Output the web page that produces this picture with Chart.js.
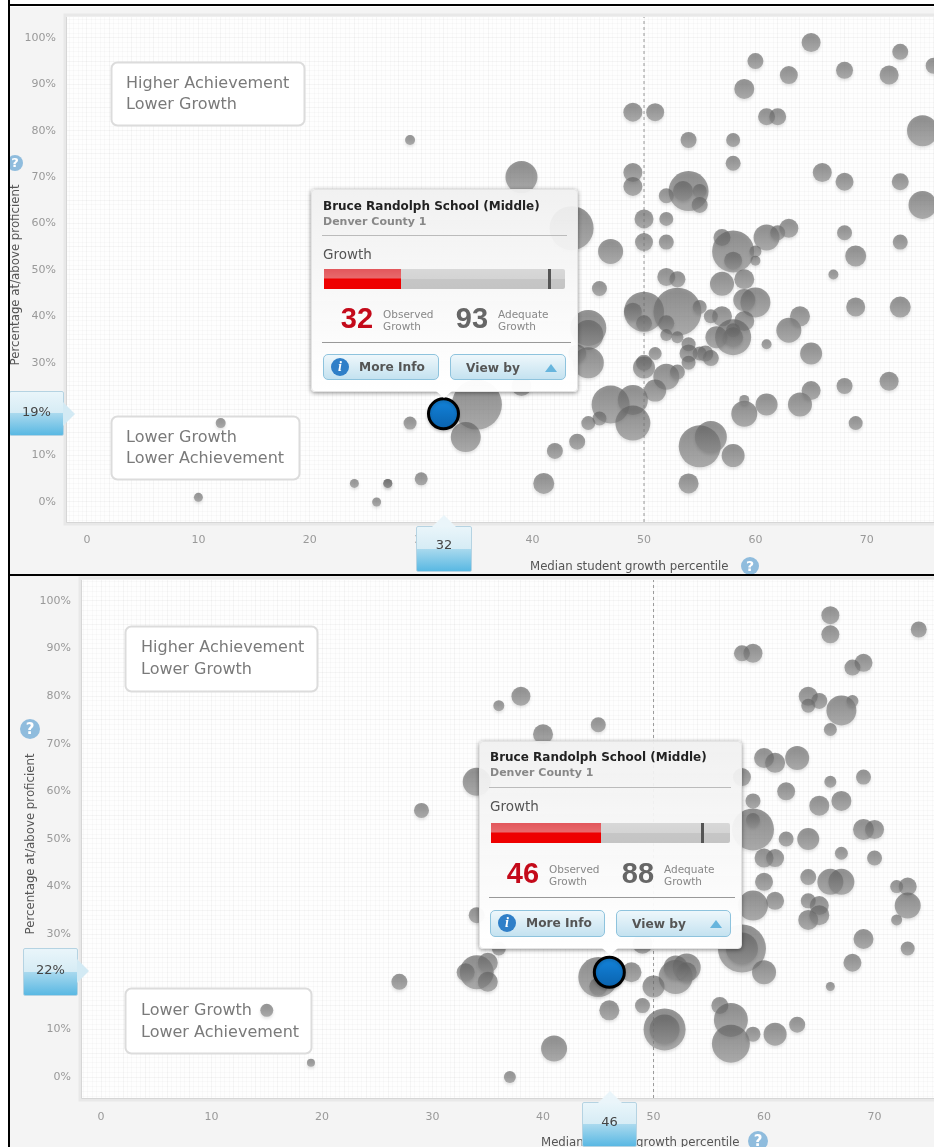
<!DOCTYPE html>
<html>
<head>
<meta charset="utf-8">
<title>Median growth vs percentage proficient</title>
<script src="https://cdn.jsdelivr.net/npm/chart.js@4"></script>
<style>
  html, body { margin: 0; padding: 0; background: #fff; width: 934px; height: 1147px; overflow: hidden; font-family: "DejaVu Sans", sans-serif; }
  canvas { position: absolute; background: #f4f4f4; }
  .abs { position: absolute; white-space: nowrap; }
  .line { position: absolute; background: #000; }
  .axisTitle { color: #555; font-size: 11.75px; }
  .help { position: absolute; border-radius: 50%; background: #8fbcdd; color: #fff; font-weight: bold; text-align: center; }
  .callout { position: absolute; border: 1px solid #b5d3e2; box-sizing: border-box; border-radius: 2px;
    background: linear-gradient(#e9f5fa 0, #d6ecf5 49%, #a9d9ee 50%, #59b8e3 100%); color: #444; font-size: 13px; text-align: center; }
  .callout:after { content: ""; position: absolute; }
  .callout.right:after { left: 100%; top: 10px; border-left: 12px solid #d3eaf4; border-top: 12px solid transparent; border-bottom: 12px solid transparent; }
  .callout.up:after { bottom: 100%; left: 15px; border-bottom: 12px solid #eaf5fa; border-left: 12px solid transparent; border-right: 12px solid transparent; }
  .tip { position: absolute; box-sizing: border-box; border: 1px solid #e4e4e4; border-radius: 4px; background: linear-gradient(rgba(240,240,240,.93), rgba(255,255,255,.97)); box-shadow: 0 1px 4px rgba(0,0,0,.45); color: #444; }
  .tipArrow { position: absolute; top: 100%; margin-left: -8px; border-top: 7px solid #fff; border-left: 8px solid transparent; border-right: 8px solid transparent; }
  .tip .rule { position: absolute; height: 1px; background: #bbb; }
  .bar { position: absolute; background: linear-gradient(#d8d8d8 0, #d4d4d4 49%, #c6c6c6 50%, #c4c4c4 100%); border-radius: 2px; }
  .bar i { position: absolute; left: 0; top: 0; bottom: 0; background: linear-gradient(#e2575c 0, #e86a6c 45%, #ee0000 50%, #ee0000 100%); }
  .bar b { position: absolute; top: 0; bottom: 0; width: 3px; background: #555; }
  .num { position: absolute; font: bold 29px/30px "Liberation Sans", sans-serif; transform: translateX(-50%); }
  .cap { position: absolute; font-size: 10.5px; line-height: 12px; color: #888; white-space: nowrap; }
  .btn { position: absolute; box-sizing: border-box; border: 1px solid #8ec3dd; border-radius: 5px; background: linear-gradient(#eef7fb, #c4e2f0); font-weight: bold; font-size: 12.2px; color: #555; }
  .btn span { position: absolute; white-space: nowrap; }
  .info { position: absolute; border-radius: 50%; background: #2f7fc8; color: #fff; font: italic bold 14px "Liberation Serif", serif; text-align: center; }
  .tri { position: absolute; border-bottom: 8px solid #67b5dd; border-left: 6px solid transparent; border-right: 6px solid transparent; }
</style>
</head>
<body>
<canvas id="topChart" width="925" height="567" style="left:9px;top:7px"></canvas>
<canvas id="bottomChart" width="925" height="571" style="left:9px;top:576px"></canvas>
<div id="overlay"></div>
<div class="line" style="left:0;top:0;width:8px;height:1147px;background:#fff"></div>
<div class="line" style="left:8px;top:0;width:2px;height:1147px"></div>
<div class="line" style="left:8px;top:4px;width:926px;height:2px"></div>
<div class="line" style="left:8px;top:574px;width:926px;height:2px"></div>

<script>
// growth percentile, percent proficient and bubble size
const topGrowth = [65, 73, 76, 60, 63, 68, 72, 59, 49, 51, 61, 62, 75, 54, 58, 29, 58, 39, 49, 49, 66, 68, 73, 75,
  54, 52, 55, 55, 53.5, 50, 52, 50, 52, 43.5, 47, 57, 58, 58, 61, 62, 63, 60, 60, 68, 73, 69, 67, 52, 53, 57, 59, 46,
  60, 59, 69, 73, 50, 49, 50, 53, 52, 52, 53, 55, 56, 57, 59, 58, 58, 56.5, 58, 61, 63, 64, 65, 45, 45, 45, 44,
  54, 54, 54, 55, 55.5, 56, 51, 50, 50, 52, 53, 51, 47, 49, 49, 46, 45, 44, 42, 41, 54, 55, 56, 58, 59, 59, 61, 64, 65,
  68, 72, 69, 35, 34, 39, 12, 29, 24, 27, 27, 30, 26, 10];
const topProficient = [99, 97, 94, 95, 92, 93, 92, 89, 84, 84, 83, 83, 80, 78, 78, 78, 73, 70, 71, 68, 71, 69, 69, 64,
  67, 66, 67, 64, 67, 61, 61, 56, 56, 59, 54, 57, 54, 52, 57, 58, 59, 54, 52, 58, 56, 53, 49, 48.5, 48, 47, 48, 46,
  43, 43.5, 42, 42, 41, 41, 38.5, 41, 38.5, 36, 35.5, 42, 40, 40, 39, 37, 35.5, 35.5, 35.5, 34, 37, 40, 32, 37.5, 36, 30, 32,
  34, 32, 30, 32, 32, 31, 32, 30, 29, 27, 28, 24, 21, 22, 17, 18, 17, 13, 11, 4, 4, 12, 14, 10, 19, 22, 21, 21, 24,
  25, 26, 17, 21, 14, 25, 17, 17, 4, 4, 4, 5, 0, 1];
const topSize = [9.5, 8, 8, 8, 9, 8.5, 9.5, 10, 9.5, 9, 8.5, 8.5, 15.5, 8, 7, 5, 7.5, 16, 9.5, 9.5, 9.5, 9, 8.5, 14,
  20, 7.5, 7, 8, 10, 9.5, 7, 9, 7.5, 22, 12.5, 8.5, 21, 9, 13, 7.5, 9.5, 6, 5, 7.5, 7.5, 10.5, 5, 9, 8, 12, 10, 7.5,
  15, 11, 9.5, 10.5, 20, 9, 8, 24, 8, 6, 6, 7, 7, 10, 10, 7, 18, 11, 10, 5, 12.5, 10, 11, 18, 15, 15.5, 9,
  7, 9, 7, 7, 8, 8, 6.5, 8, 11, 13, 7.5, 11, 19, 15, 17.5, 7, 7, 8, 8, 10.5, 10, 21, 16, 11.5, 13, 5, 11, 12, 9.5,
  8, 9.5, 7, 25, 15, 10, 5, 6.5, 4.5, 4.5, 4.5, 6.5, 4.5, 4.5];

const bottomGrowth = [66, 66, 74, 58, 59, 69, 68, 64, 65, 64, 67, 68, 66, 38, 36, 45, 40, 60, 61, 63, 69, 66, 62, 67, 65,
  59, 59, 59, 58, 64, 62, 69, 70, 67, 70, 60, 61, 34, 64, 66, 67, 72, 73, 73, 72, 69, 73, 68, 66, 60, 59, 61, 64, 65, 64, 65,
  58, 58, 60, 53, 52, 52, 50, 48, 45, 45, 46, 49, 51, 51, 56, 57, 57, 59, 61, 63, 41, 37, 19, 27, 15, 29,
  34, 35, 35, 33, 34, 36, 49, 53];
const bottomProficient = [97, 93, 94, 89, 89, 87, 86, 80, 79, 78, 77, 79, 73, 80, 78, 74, 72, 67, 66, 67, 63, 62, 60, 58, 57,
  58, 52, 54, 63, 50, 50, 52, 52, 47, 46, 46, 46, 62, 42, 41, 41, 40, 40, 36, 33, 29, 27, 24, 19, 41, 36, 37, 37, 36, 33, 34,
  27, 27, 22, 23, 21, 23, 19, 22, 21, 19, 14, 15, 10, 10, 15, 12, 7, 9, 9, 11, 6, 0, 3, 20, 14, 56,
  22, 24, 20, 22, 34, 27, 28, 22];
const bottomSize = [9, 9, 8, 8, 9.5, 9, 8, 9.5, 8, 7, 15, 6, 6.5, 9.5, 5.5, 7.5, 10, 10, 10, 12, 7.5, 6, 9, 10, 10,
  7.5, 21, 7, 9, 11, 7.5, 10.5, 9.5, 6.5, 7.5, 9.5, 9, 14, 8, 13, 13, 6.5, 9, 13, 5.5, 10, 7, 9, 4.5, 9, 15, 9, 7.5, 9.5, 10, 10,
  24, 16, 12, 14, 17, 12, 11, 10, 20, 9, 10, 7.5, 21, 15, 8.5, 17, 19, 7.5, 11.5, 8, 13, 6, 4, 8, 6.5, 7.5,
  17, 10, 10, 9, 8, 7, 10, 10];

const topPick = { growth: 32, proficient: 19, size: 15, adequate: 93 };
const bottomPick = { growth: 46, proficient: 22, size: 15, adequate: 88 };

const schoolName = 'Bruce Randolph School (Middle)';
const districtName = 'Denver County 1';
const growthTicks = [0, 10, 20, 30, 40, 50, 60, 70];
const proficientTicks = [0, 10, 20, 30, 40, 50, 60, 70, 80, 90, 100];

function near(v, n) { return Math.abs(v / n - Math.round(v / n)) < 1e-6; }

function vertical(c, top, bottom) {
  if (!c.raw) return bottom;
  const y = c.chart.scales.y.getPixelForValue(c.raw.y);
  // scales have no size yet the first time options get resolved
  if (!isFinite(y) || !isFinite(c.raw.r)) return bottom;
  const grad = c.chart.ctx.createLinearGradient(0, y - c.raw.r, 0, y + c.raw.r);
  grad.addColorStop(0, top);
  grad.addColorStop(1, bottom);
  return grad;
}

function bubbleFill(c) { return vertical(c, 'rgba(95,95,95,0.66)', 'rgba(140,140,140,0.66)'); }
function blueFill(c) { return vertical(c, '#1384dc', '#0a62ad'); }

// tick padding also widens the layout margins, which would shrink the plot
function noScalePadding(s) {
  s.paddingLeft = 0;
  s.paddingRight = 0;
  s.paddingTop = 0;
  s.paddingBottom = 0;
}

// plot background, frame, quadrant notes and bubble shadow
const plotDeco = {
  id: 'plotDeco',
  beforeDraw(chart) {
    const a = chart.chartArea, g = chart.ctx;
    g.save();
    g.fillStyle = '#fefefe';
    g.fillRect(a.left, a.top, a.right - a.left, a.bottom - a.top);
    g.restore();
  },
  beforeDatasetsDraw(chart, args, opts) {
    const a = chart.chartArea, g = chart.ctx;
    g.save();
    g.strokeStyle = '#e8e8e8';
    g.lineWidth = 3;
    g.strokeRect(a.left - 2, a.top - 2, a.right - a.left + 10, a.bottom - a.top + 4);
    g.strokeStyle = '#d6d6d6';
    g.lineWidth = 1;
    g.beginPath();
    g.moveTo(a.left - 0.5, a.top);
    g.lineTo(a.left - 0.5, a.bottom + 0.5);
    g.lineTo(a.right, a.bottom + 0.5);
    g.stroke();
    opts.notes.forEach(n => {
      g.beginPath();
      g.roundRect(n.left + 0.5, n.top + 0.5, n.width, n.height, 6);
      g.fillStyle = '#fff';
      g.fill();
      g.strokeStyle = '#dcdcdc';
      g.lineWidth = 2;
      g.stroke();
      g.fillStyle = '#7a7a7a';
      g.font = '16px "DejaVu Sans"';
      g.textBaseline = 'middle';
      g.fillText(n.lines[0], n.textX, n.y1);
      g.fillText(n.lines[1], n.textX, n.y2);
    });
    g.restore();
  },
  beforeDatasetDraw(chart, args) {
    if (args.meta.type !== 'bubble') return;
    const g = chart.ctx;
    g.save();
    g.shadowColor = 'rgba(0,0,0,0.16)';
    g.shadowBlur = 3;
    g.shadowOffsetY = 2;
  },
  afterDatasetDraw(chart, args) {
    if (args.meta.type !== 'bubble') return;
    chart.ctx.restore();
  }
};

function makeChart(id, growth, proficient, size, pick, box) {
  const points = growth.map((x, i) => ({ x: x, y: proficient[i], r: size[i] }));
  return new Chart(document.getElementById(id), {
    type: 'bubble',
    data: {
      datasets: [
        { data: [{ x: pick.growth, y: pick.proficient, r: pick.size }], backgroundColor: blueFill, borderColor: '#000', borderWidth: 3, order: 0 },
        { data: points, backgroundColor: bubbleFill, borderWidth: 0, order: 1 },
        { type: 'line', data: [{ x: 50, y: box.yMin }, { x: 50, y: box.yMax }], borderColor: '#999', borderWidth: 1, borderDash: [3, 3], pointRadius: 0, order: 2 }
      ]
    },
    options: {
      responsive: false,
      animation: false,
      events: [],
      layout: { autoPadding: false, padding: { top: box.padTop, left: 0, right: 0, bottom: 0 } },
      plugins: { legend: { display: false }, tooltip: { enabled: false }, plotDeco: { notes: box.notes } },
      scales: {
        x: {
          type: 'linear', min: box.xMin, max: box.xMax,
          border: { display: false },
          grid: { drawTicks: false, color: c => near(c.tick.value, 2) ? 'rgba(0,0,0,0.035)' : 'rgba(0,0,0,0.018)' },
          ticks: {
            stepSize: 0.4, includeBounds: false, autoSkip: false, maxRotation: 0, padding: box.xPad, color: '#999', font: { size: 11, family: '"DejaVu Sans"' },
            callback: v => growthTicks.find(t => Math.abs(t - v) < 1e-6) !== undefined ? String(Math.round(v)) : ''
          },
          afterFit(s) { s.height = box.xHeight; noScalePadding(s); }
        },
        y: {
          type: 'linear', min: box.yMin, max: box.yMax,
          border: { display: false },
          grid: { drawTicks: false, color: c => near(c.tick.value, 5) ? 'rgba(0,0,0,0.035)' : 'rgba(0,0,0,0.018)' },
          ticks: {
            stepSize: 1, includeBounds: false, autoSkip: false, padding: 11, color: '#999', font: { size: 11, family: '"DejaVu Sans"' },
            callback: v => proficientTicks.includes(v) ? v + '%' : ''
          },
          afterFit(s) { s.width = box.yWidth; noScalePadding(s); }
        }
      }
    },
    plugins: [plotDeco]
  });
}

makeChart('topChart', topGrowth, topProficient, topSize, topPick, {
  xMin: -1.795, xMax: 76.03, yMin: -4.31, yMax: 104.5, padTop: 10, xHeight: 52, yWidth: 58, xPad: 12,
  notes: [
    { left: 102, top: 55, width: 193, height: 63, textX: 117, y1: 77, y2: 98, lines: ['Higher Achievement', 'Lower Growth'] },
    { left: 102, top: 409, width: 188, height: 63, textX: 117, y1: 431, y2: 452, lines: ['Lower Growth', 'Lower Achievement'] }
  ]
});

makeChart('bottomChart', bottomGrowth, bottomProficient, bottomSize, bottomPick, {
  xMin: -1.72, xMax: 75.38, yMin: -4.41, yMax: 104.4, padTop: 4, xHeight: 49, yWidth: 73, xPad: 13,
  notes: [
    { left: 116, top: 50, width: 192, height: 65, textX: 132, y1: 72, y2: 94, lines: ['Higher Achievement', 'Lower Growth'] },
    { left: 116, top: 412, width: 186, height: 65, textX: 132, y1: 435, y2: 457, lines: ['Lower Growth', 'Lower Achievement'] }
  ]
});

// html overlays sit on top of the canvases
const overlay = document.getElementById('overlay');
function add(html) { overlay.insertAdjacentHTML('beforeend', html); }

function help(x, y, r) {
  add(`<div class="help" style="left:${x - r}px;top:${y - r}px;width:${2 * r}px;height:${2 * r}px;line-height:${2 * r}px;font-size:${r + 5}px">?</div>`);
}

function yTitle(cx, cy) {
  add(`<div class="abs axisTitle" style="left:${cx}px;top:${cy}px;transform:translate(-50%,-50%) rotate(-90deg)">Percentage at/above proficient</div>`);
}

function xTitle(left, cy) {
  add(`<div class="abs axisTitle" style="left:${left}px;top:${cy - 7}px;line-height:14px">Median student growth percentile</div>`);
}

function tipBox(pick, b) {
  add(`<div class="tip" style="left:${b.x}px;top:${b.y}px;width:${b.w}px;height:${b.h}px">
    <div class="tipArrow" style="left:${b.tipX}px"></div>
    <div class="abs" style="left:${b.textX}px;top:${b.titleY - 8}px;font-size:12px;line-height:16px;font-weight:bold;color:#222">${schoolName}</div>
    <div class="abs" style="left:${b.textX}px;top:${b.titleY + 9}px;font-size:11px;line-height:14px;font-weight:bold;color:#888">${districtName}</div>
    <div class="rule" style="left:${b.textX - 1}px;right:10px;top:${b.rule1}px"></div>
    <div class="abs" style="left:${b.textX}px;top:${b.rule1 + 11}px;font-size:13.5px;line-height:16px;color:#555">Growth</div>
    <div class="bar" style="left:${b.barX}px;top:${b.barY}px;width:${b.barW}px;height:20px">
      <i style="width:${pick.growth}%"></i><b style="left:${pick.adequate}%"></b>
    </div>
    <div class="num" style="left:${b.numX1}px;top:${b.numY - 15}px;color:#c40a1a">${pick.growth}</div>
    <div class="cap" style="left:${b.numX1 + 26}px;top:${b.numY - 10}px">Observed<br>Growth</div>
    <div class="num" style="left:${b.numX2}px;top:${b.numY - 15}px;color:#666">${pick.adequate}</div>
    <div class="cap" style="left:${b.numX2 + 26}px;top:${b.numY - 10}px">Adequate<br>Growth</div>
    <div class="rule" style="left:${b.textX - 1}px;right:6px;top:${b.rule2}px;background:#999"></div>
    <div class="btn" style="left:${b.textX}px;top:${b.btnY}px;width:${b.btnW}px;height:${b.btnH}px">
      <div class="info" style="left:7px;top:3px;width:18px;height:18px;line-height:18px">i</div>
      <span style="left:35px;top:5px">More Info</span>
    </div>
    <div class="btn" style="left:${b.textX + b.btnW + 11}px;top:${b.btnY}px;width:${b.btnW}px;height:${b.btnH}px">
      <span style="left:15px;top:6px">View by</span><div class="tri" style="right:8px;top:9px"></div>
    </div>
  </div>`);
}

yTitle(15, 275);
help(15, 163, 8);
xTitle(530, 566);
help(750, 566, 9);
yTitle(30, 844);
help(30, 729, 10);
xTitle(541, 1142);
help(758, 1141, 10);

tipBox(topPick, { x: 311, y: 189, w: 267, h: 203, textX: 11, titleY: 16, rule1: 45, barX: 12, barY: 79, barW: 241, numX1: 45, numX2: 160, numY: 128, rule2: 152, btnY: 164, btnW: 116, btnH: 26, tipX: 132 });
tipBox(bottomPick, { x: 479, y: 741, w: 263, h: 208, textX: 10, titleY: 15, rule1: 45, barX: 11, barY: 81, barW: 239, numX1: 43, numX2: 158, numY: 131, rule2: 155, btnY: 168, btnW: 115, btnH: 27, tipX: 130 });

add(`<div class="callout right" style="left:9px;top:391px;width:55px;height:45px;line-height:40px">${topPick.proficient}%</div>`);
add(`<div class="callout up" style="left:416px;top:526px;width:56px;height:46px;line-height:36px">${topPick.growth}</div>`);
add(`<div class="callout right" style="left:23px;top:948px;width:55px;height:48px;line-height:42px">${bottomPick.proficient}%</div>`);
add(`<div class="callout up" style="left:582px;top:1102px;width:55px;height:45px;line-height:38px">${bottomPick.growth}</div>`);
</script>
</body>
</html>
